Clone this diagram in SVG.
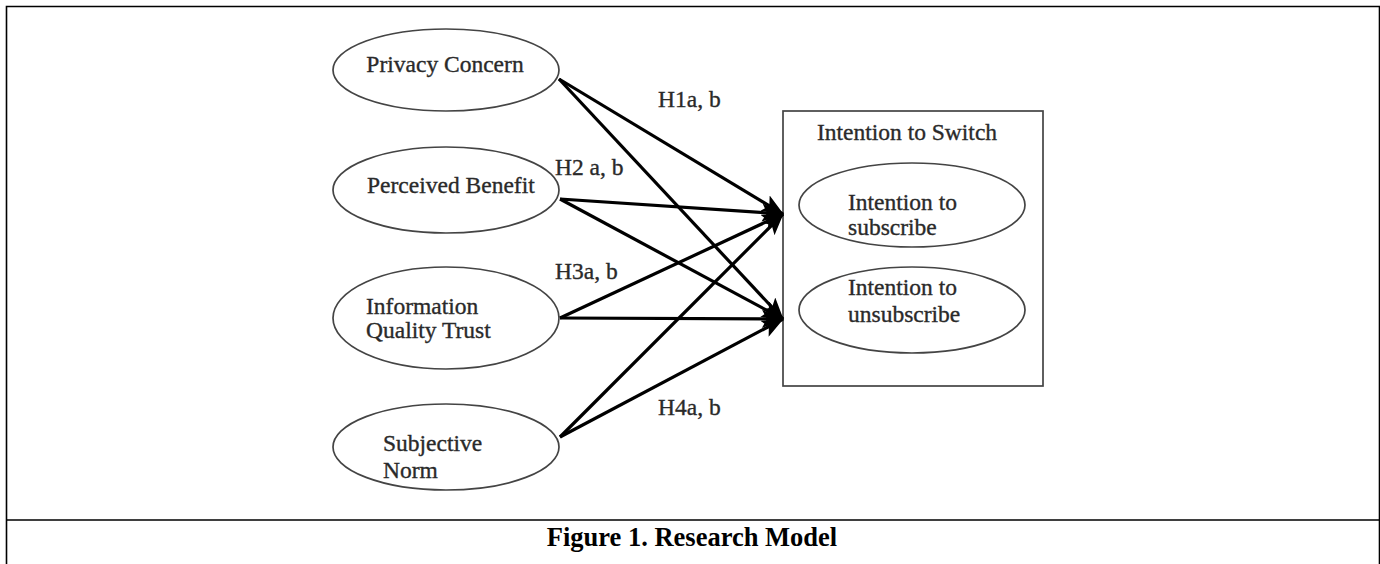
<svg xmlns="http://www.w3.org/2000/svg" width="1380" height="564" viewBox="0 0 1380 564">
<style>
.frame{fill:none;stroke:#000;stroke-width:1.6}
.node{fill:#fff;stroke:#444;stroke-width:1.7}
.box{fill:#fff;stroke:#444;stroke-width:1.7}
.t{font-family:"Liberation Serif","DejaVu Serif",serif;font-size:23.5px;fill:#2a2a2a;stroke:#2a2a2a;stroke-width:0.35}
.cap{font-family:"Liberation Serif","DejaVu Serif",serif;font-size:26.5px;font-weight:bold;fill:#000}
.edge{stroke:#000;stroke-width:3.2;fill:none;marker-end:url(#ah)}
</style>
<defs>
<marker id="ah" markerUnits="userSpaceOnUse" markerWidth="22" markerHeight="18" viewBox="0 0 22 18" refX="21" refY="9" orient="auto">
<path d="M0,0 L22,9 L0,18 L5,9 Z" fill="#000"/>
</marker>
</defs>
<rect width="1380" height="564" fill="#fff"/>
<g id="frame">
<path class="frame" d="M6.5,564 V6.5 H1379.5 V564 M6.5,520 H1379.5"/>
</g>
<g id="caption"><text class="cap" x="692" y="546" text-anchor="middle">Figure 1. Research Model</text></g>
<g id="switch-box">
<rect class="box" x="783" y="111" width="260" height="275"/>
<text class="t" x="907" y="140" text-anchor="middle">Intention to Switch</text>
</g>
<g id="subscribe">
<ellipse class="node" cx="912" cy="205" rx="113" ry="42"/>
<text class="t" x="848" y="210">Intention to</text>
<text class="t" x="848" y="235">subscribe</text>
</g>
<g id="unsubscribe">
<ellipse class="node" cx="912" cy="310" rx="113" ry="43"/>
<text class="t" x="848" y="295">Intention to</text>
<text class="t" x="848" y="322">unsubscribe</text>
</g>
<g id="privacy">
<ellipse class="node" cx="446" cy="70" rx="113" ry="41"/>
<text class="t" x="445" y="72" text-anchor="middle">Privacy Concern</text>
</g>
<g id="benefit">
<ellipse class="node" cx="446" cy="190" rx="113" ry="43"/>
<text class="t" x="367" y="193">Perceived Benefit</text>
</g>
<g id="iqt">
<ellipse class="node" cx="446" cy="318" rx="113" ry="51"/>
<text class="t" x="366" y="314">Information</text>
<text class="t" x="366" y="338">Quality Trust</text>
</g>
<g id="norm">
<ellipse class="node" cx="446" cy="447" rx="113" ry="43"/>
<text class="t" x="383" y="451">Subjective</text>
<text class="t" x="383" y="478">Norm</text>
</g>
<g id="connectors">
<line class="edge" x1="559" y1="79" x2="783" y2="214"/>
<line class="edge" x1="559" y1="79" x2="783" y2="319"/>
<line class="edge" x1="560" y1="199" x2="783" y2="214"/>
<line class="edge" x1="560" y1="199" x2="783" y2="319"/>
<line class="edge" x1="560" y1="318" x2="783" y2="214"/>
<line class="edge" x1="560" y1="318" x2="783" y2="319"/>
<line class="edge" x1="560" y1="437" x2="783" y2="214"/>
<line class="edge" x1="560" y1="437" x2="783" y2="319"/>
</g>
<g id="labels">
<text class="t" x="658" y="107">H1a, b</text>
<text class="t" x="555" y="175">H2 a, b</text>
<text class="t" x="555" y="279">H3a, b</text>
<text class="t" x="658" y="415">H4a, b</text>
</g>
</svg>
